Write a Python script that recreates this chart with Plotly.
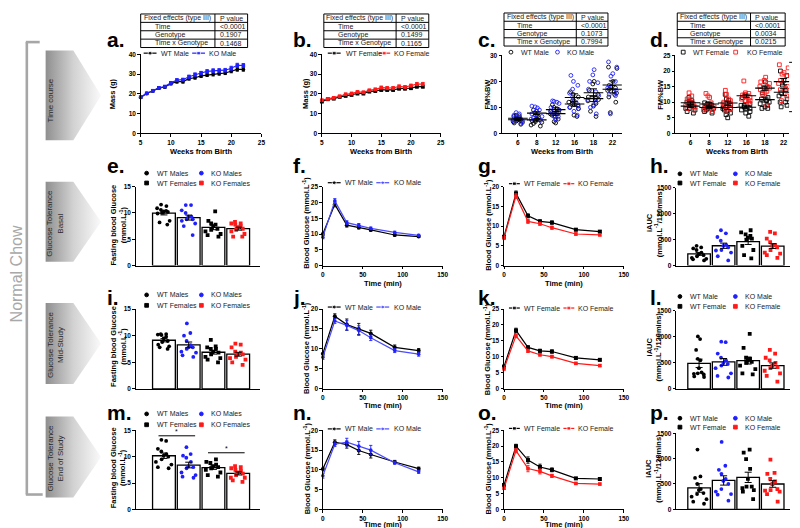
import numpy as np
import plotly.graph_objects as go

W, H = 800, 528
FONT = "Liberation Sans"
BLK = "#000000"
BLUE = "#2020ff"
BLUE2 = "#4b4bff"
RED = "#ff1a1a"
TXT = "#1a1a1a"

# ======================= DATA =======================
# a / b : body mass time course (mean, SEM)
weeks = [5, 6, 7, 8, 9, 10, 11, 12, 13, 14, 15, 16, 17, 18, 19, 20, 21, 22]
a_wt_mean = [18.2, 20.2, 21.5, 22.9, 23.5, 25.2, 26.2, 26.2, 27.7, 28.2, 29.1, 29.6, 29.9, 30.3, 30.6, 31.6, 32.4, 32.4]
a_wt_sem = [0.5, 0.5, 0.5, 0.6, 0.6, 0.6, 0.7, 0.7, 0.7, 0.7, 0.8, 0.8, 0.8, 0.8, 0.8, 0.9, 0.9, 0.9]
a_ko_mean = [18.4, 20.3, 21.6, 23.1, 23.7, 25.6, 27.0, 27.2, 28.7, 29.8, 30.6, 31.4, 31.8, 31.9, 32.0, 33.0, 34.5, 34.4]
a_ko_sem = [0.5, 0.5, 0.6, 0.6, 0.6, 0.7, 0.7, 0.7, 0.8, 0.8, 0.8, 0.9, 0.9, 0.9, 0.9, 1.0, 1.0, 1.0]
b_wt_mean = [16.1, 17.3, 17.6, 18.5, 19.0, 19.5, 20.2, 20.2, 21.2, 21.5, 22.0, 22.0, 22.0, 22.7, 22.7, 22.9, 23.7, 23.7]
b_wt_sem = [0.5, 0.5, 0.5, 0.5, 0.5, 0.5, 0.6, 0.6, 0.6, 0.6, 0.6, 0.6, 0.6, 0.7, 0.7, 0.7, 0.7, 0.7]
b_ko_mean = [16.8, 17.5, 18.0, 18.8, 19.8, 20.2, 21.0, 20.8, 21.8, 22.3, 23.2, 23.0, 23.0, 23.8, 23.5, 24.2, 25.0, 25.0]
b_ko_sem = [0.5, 0.5, 0.5, 0.5, 0.6, 0.6, 0.6, 0.6, 0.6, 0.6, 0.7, 0.7, 0.7, 0.7, 0.7, 0.7, 0.8, 0.8]

# c / d : fat mass % body weight, individual animals per week
fm_weeks = ["6", "8", "12", "16", "18", "22"]
c_wt = [
    [4.0, 4.5, 4.8, 5.0, 5.2, 5.5, 6.0, 6.5, 7.0, 3.5, 4.2, 6.8],
    [2.8, 3.2, 3.8, 4.2, 4.5, 5.0, 5.5, 6.0, 6.5, 7.0, 9.0, 4.8],
    [4.0, 4.5, 5.5, 6.5, 7.0, 7.5, 8.0, 8.5, 9.0, 10.0, 11.0, 9.5],
    [16.0, 15.0, 14.0, 12.5, 12.0, 11.5, 11.0, 10.5, 10.0, 9.5, 7.0, 6.5],
    [20.0, 19.0, 16.5, 15.0, 14.0, 13.5, 13.0, 12.5, 11.5, 10.5, 8.5, 6.5],
    [25.5, 25.0, 20.0, 18.0, 17.5, 17.0, 16.5, 15.5, 15.0, 14.0, 12.0, 8.0],
]
c_ko = [
    [5.0, 5.5, 6.0, 6.5, 7.0, 7.5, 8.0, 4.5, 5.2, 6.2, 4.8, 3.8],
    [10.5, 10.2, 9.8, 9.0, 8.5, 8.0, 7.5, 7.0, 6.5, 5.5, 5.0, 6.0],
    [12.5, 12.3, 12.0, 11.5, 10.0, 9.0, 8.5, 8.0, 7.5, 6.5, 5.5, 6.5],
    [22.3, 20.0, 18.5, 17.0, 15.5, 14.0, 12.5, 11.0, 10.0, 9.5, 8.5, 7.0],
    [24.5, 22.5, 20.0, 19.5, 17.0, 16.0, 14.5, 13.0, 12.0, 11.0, 10.0, 7.5],
    [27.5, 25.5, 23.0, 22.0, 20.0, 18.5, 17.5, 16.5, 16.0, 15.0, 14.5, 7.5],
]
d_wt = [
    [11.5, 10.5, 9.5, 9.0, 8.5, 8.0, 7.5, 7.0, 6.5, 9.0, 10.0, 8.0],
    [9.8, 9.5, 9.0, 8.5, 8.3, 8.0, 7.5, 7.0, 6.5, 8.5, 9.2, 8.0],
    [12.5, 11.0, 10.5, 9.0, 8.5, 8.0, 7.5, 7.0, 6.5, 6.0, 5.0, 8.0],
    [11.5, 10.5, 9.5, 9.0, 8.5, 8.0, 7.5, 7.0, 6.5, 5.5, 8.0, 9.0],
    [16.5, 14.5, 13.0, 11.0, 10.5, 10.0, 9.5, 9.0, 8.5, 8.0, 8.0, 11.5],
    [20.0, 18.5, 17.0, 15.5, 14.0, 13.0, 12.0, 11.0, 10.0, 9.0, 8.5, 10.0],
]
d_ko = [
    [13.0, 12.0, 11.0, 10.5, 10.0, 9.5, 9.0, 8.5, 8.0, 7.5, 9.0, 10.0],
    [12.8, 12.0, 11.5, 9.8, 9.5, 9.0, 8.5, 8.0, 7.5, 7.0, 8.5, 9.0],
    [13.8, 12.5, 11.0, 10.5, 10.0, 9.5, 9.0, 8.5, 8.0, 7.5, 7.0, 9.5],
    [16.8, 13.0, 12.5, 12.3, 12.0, 11.5, 11.0, 10.5, 10.0, 12.8, 11.8, 10.5],
    [18.0, 17.0, 16.5, 16.0, 15.0, 14.5, 14.0, 13.5, 13.0, 12.5, 9.0, 15.0],
    [22.0, 21.0, 19.5, 19.0, 18.5, 17.0, 16.0, 15.0, 14.5, 14.0, 12.0, 10.5],
]

# glucose tolerance curves (mean, SEM)
gtt_time = [0, 15, 30, 45, 60, 90, 120]
f_wt_mean = [10.0, 19.4, 12.8, 12.1, 11.3, 9.7, 9.2]
f_wt_sem = [0.4, 0.8, 0.6, 0.5, 0.4, 0.4, 0.3]
f_ko_mean = [9.0, 20.5, 13.6, 12.8, 11.8, 10.5, 9.6]
f_ko_sem = [0.5, 0.7, 0.6, 0.5, 0.4, 0.4, 0.3]
g_wt_mean = [7.3, 18.3, 12.6, 11.2, 10.9, 9.1, 8.6]
g_wt_sem = [0.4, 0.6, 0.5, 0.4, 0.4, 0.3, 0.3]
g_ko_mean = [7.0, 17.6, 11.2, 10.6, 9.6, 8.0, 7.8]
g_ko_sem = [0.4, 0.6, 0.5, 0.4, 0.4, 0.3, 0.3]
j_wt_mean = [8.8, 18.2, 16.1, 15.0, 13.9, 10.4, 9.6]
j_wt_sem = [0.6, 0.6, 1.4, 1.4, 0.8, 0.6, 0.5]
j_ko_mean = [7.9, 17.0, 15.9, 14.6, 12.8, 9.6, 8.7]
j_ko_sem = [0.5, 0.6, 1.2, 1.2, 0.7, 0.5, 0.5]
k_wt_mean = [7.0, 18.3, 13.0, 11.9, 11.7, 9.7, 9.1]
k_wt_sem = [0.4, 0.7, 0.5, 0.5, 0.5, 0.4, 0.3]
k_ko_mean = [6.3, 16.6, 11.9, 10.7, 10.1, 8.0, 7.3]
k_ko_sem = [0.4, 0.6, 0.5, 0.4, 0.4, 0.3, 0.3]
n_wt_mean = [10.2, 17.0, 16.4, 14.9, 13.9, 12.0, 10.3]
n_wt_sem = [0.5, 0.6, 0.9, 1.0, 0.9, 0.4, 0.4]
n_ko_mean = [8.5, 16.5, 17.0, 16.0, 15.0, 11.8, 9.5]
n_ko_sem = [0.6, 0.6, 1.0, 1.2, 1.2, 0.4, 0.4]
o_wt_mean = [7.7, 20.0, 15.6, 13.4, 12.5, 9.8, 9.6]
o_wt_sem = [0.4, 0.6, 1.0, 0.9, 0.6, 0.3, 0.3]
o_ko_mean = [6.7, 18.6, 12.9, 12.0, 10.6, 8.2, 8.0]
o_ko_sem = [0.4, 0.7, 1.0, 0.8, 0.5, 0.3, 0.3]

# fasting blood glucose (mmol/L) per animal: WT M, KO M, WT F, KO F
e_wt_m = [11.6, 11.3, 10.9, 10.6, 10.4, 10.3, 10.2, 10.0, 9.9, 8.5, 8.2, 7.8]
e_ko_m = [11.5, 11.5, 10.5, 10.0, 9.3, 8.8, 8.5, 8.8, 7.5, 5.8, 9.3, 8.0]
e_wt_f = [10.3, 8.5, 8.0, 7.8, 7.5, 7.0, 6.5, 6.0, 5.8, 5.5, 6.8]
e_ko_f = [8.3, 8.0, 8.0, 7.8, 7.3, 7.0, 6.5, 6.0, 5.5, 5.5, 7.5, 6.8]
i_wt_m = [10.3, 10.3, 10.2, 10.1, 9.8, 9.5, 9.0, 8.8, 8.3, 8.0, 7.5, 7.8]
i_ko_m = [12.3, 10.5, 10.0, 9.0, 8.2, 7.8, 7.5, 7.0, 6.8, 6.3, 6.0, 7.8]
i_wt_f = [9.2, 8.0, 7.8, 7.5, 7.0, 6.8, 6.5, 6.0, 5.8, 5.5, 5.0, 7.5]
i_ko_f = [8.5, 8.3, 7.8, 7.0, 6.5, 6.0, 5.8, 5.5, 5.0, 4.5, 6.8, 6.5]
m_wt_m = [13.2, 13.0, 11.5, 11.0, 10.5, 10.2, 10.0, 9.5, 9.0, 8.5, 7.8, 8.0]
m_ko_m = [11.8, 10.5, 10.2, 9.8, 9.0, 8.2, 7.8, 7.0, 6.5, 6.2, 6.0, 8.0]
m_wt_f = [9.5, 9.0, 8.8, 8.5, 8.2, 8.0, 7.5, 7.0, 6.5, 6.2, 7.8]
m_ko_f = [8.2, 8.0, 7.8, 7.5, 7.3, 7.0, 6.5, 6.0, 5.5, 5.2, 6.0, 6.8]

# iAUC (mmol.L-1/120 min) per animal
h_wt_m = [380, 350, 330, 300, 250, 220, 200, 180, 150, 120, 100, 130]
h_ko_m = [680, 620, 550, 480, 400, 380, 350, 300, 250, 180, 100, 290]
h_wt_f = [680, 640, 600, 570, 520, 500, 380, 300, 200, 140, 540]
h_ko_f = [650, 620, 520, 450, 400, 350, 300, 250, 200, 150, 230, 380]
l_wt_m = [1010, 960, 750, 580, 550, 400, 320, 300, 290, 280, 240, 230]
l_ko_m = [910, 900, 680, 600, 550, 500, 450, 400, 300, 250, 220, 480]
l_wt_f = [1060, 790, 600, 580, 550, 500, 450, 380, 300, 280, 520]
l_ko_f = [750, 680, 600, 550, 500, 450, 420, 400, 350, 300, 140, 250]
p_wt_m = [1180, 650, 620, 500, 400, 380, 320, 300, 250, 150, 110, 200]
p_ko_m = [1330, 860, 780, 700, 600, 560, 500, 400, 350, 300, 170, 290]
p_wt_f = [1180, 1120, 990, 800, 600, 450, 420, 380, 350, 200, 450]
p_ko_f = [980, 720, 700, 600, 550, 500, 400, 380, 350, 300, 150, 370]

# mixed-model tables
effects = ["Time", "Genotype", "Time x Genotype"]
a_pvals = ["<0.0001", "0.1907", "0.1468"]
b_pvals = ["<0.0001", "0.1499", "0.1165"]
c_pvals = ["<0.0001", "0.1073", "0.7994"]
d_pvals = ["<0.0001", "0.0034", "0.0215"]

# ======================= LAYOUT =======================
ORDER = list("abcdefghijklmnop")
BOX = {
    'a': (132, 254, 43, 123), 'b': (315, 435, 43, 123), 'c': (497, 618, 44, 123), 'd': (672, 787, 44, 123),
    'e': (127, 253, 177, 257), 'f': (316, 437, 177, 257), 'g': (499, 620, 177, 257), 'h': (673, 788, 178, 257),
    'i': (127, 253, 301, 382), 'j': (316, 437, 301, 382), 'k': (499, 620, 301, 382), 'l': (673, 788, 303, 382),
    'm': (127, 253, 424, 504), 'n': (316, 437, 424, 504), 'o': (499, 620, 424, 504), 'p': (673, 788, 427, 504),
}

fig = go.Figure()
layout = dict(
    width=W, height=H, margin=dict(l=0, r=0, t=0, b=0),
    paper_bgcolor="white", plot_bgcolor="rgba(0,0,0,0)",
    showlegend=False, boxmode="overlay", hovermode=False,
    font=dict(family=FONT, color=TXT),
)
layout["xaxis"] = dict(domain=[0, 1], range=[0, W], visible=False, fixedrange=True)
layout["yaxis"] = dict(domain=[0, 1], range=[H, 0], visible=False, fixedrange=True)

TICKFONT = dict(family=FONT, size=6.5, color=BLK, weight="bold")
AX = dict(showline=True, linecolor=BLK, linewidth=1, ticks="outside", ticklen=2.5, tickwidth=1,
          tickcolor=BLK, tickfont=TICKFONT, showgrid=False, zeroline=False, fixedrange=True)


def axes_for(key, xr, yr, ytickvals, xtickvals=None, xticktext=None, bar=False):
    n = ORDER.index(key) + 2
    x0, x1, y0, y1 = BOX[key]
    xa = dict(AX, domain=[x0 / W, x1 / W], range=xr, anchor=f"y{n}")
    if bar:
        xa.update(ticks="", showticklabels=False)
    else:
        xa.update(tickvals=xtickvals)
        if xticktext is not None:
            xa.update(ticktext=xticktext)
    ya = dict(AX, domain=[1 - y1 / H, 1 - y0 / H], range=yr, anchor=f"x{n}", tickvals=ytickvals)
    layout[f"xaxis{n}"] = xa
    layout[f"yaxis{n}"] = ya
    return f"x{n}", f"y{n}"


def line_series(xa, ya, x, mean, sem, color, lcolor, symbol, size):
    fig.add_trace(go.Scatter(
        x=x, y=mean, mode="lines+markers", xaxis=xa, yaxis=ya, cliponaxis=False,
        line=dict(color=lcolor, width=1.2),
        marker=dict(color=color, symbol=symbol, size=size, line=dict(width=0)),
        error_y=dict(type="data", array=sem, color=color, thickness=0.9, width=1.6)))


# ---- a, b : time course ----
for key, wt, wts, ko, kos, kocol, wsym, ksym in [
    ("a", a_wt_mean, a_wt_sem, a_ko_mean, a_ko_sem, BLUE, "circle", "square"),
    ("b", b_wt_mean, b_wt_sem, b_ko_mean, b_ko_sem, RED, "square", "square"),
]:
    xa, ya = axes_for(key, [5, 25], [0, 40], [0, 10, 20, 30, 40], xtickvals=[5, 10, 15, 20, 25])
    line_series(xa, ya, weeks, wt, wts, BLK, BLK, wsym, 3.8)
    line_series(xa, ya, weeks, ko, kos, kocol, kocol, ksym, 3.6)

# ---- c, d : FM%BW scatter ----
def scatter_panel(key, wt, ko, kocol, sym, xr, yr, ytv):
    xa, ya = axes_for(key, xr, yr, ytv, xtickvals=list(range(len(fm_weeks))), xticktext=fm_weeks)
    for groups, col in [(wt, BLK), (ko, kocol)]:
        xs = [i for i, g in enumerate(groups) for _ in g]
        ys = [v for g in groups for v in g]
        fig.add_trace(go.Box(
            x=xs, y=ys, xaxis=xa, yaxis=ya, boxpoints="all", jitter=1, pointpos=0, width=0.62,
            fillcolor="rgba(0,0,0,0)", line=dict(width=0, color="rgba(0,0,0,0)"),
            marker=dict(symbol=sym, size=3.8, color=col, line=dict(width=0.9, color=col))))
    for groups in (wt, ko):
        means = [float(np.mean(g)) for g in groups]
        sems = [float(np.std(g, ddof=1) / np.sqrt(len(g))) for g in groups]
        fig.add_trace(go.Scatter(
            x=list(range(len(groups))), y=means, mode="markers", xaxis=xa, yaxis=ya,
            marker=dict(symbol="line-ew-open", size=14, color=BLK, line=dict(width=1.1, color=BLK)),
            error_y=dict(type="data", array=sems, color=BLK, thickness=1, width=3.5)))

scatter_panel("c", c_wt, c_ko, BLUE, "circle-open", [-0.84, 5.5], [0, 30], [0, 10, 20, 30])
scatter_panel("d", d_wt, d_ko, RED, "square-open", [-0.82, 5.3], [0, 25], [0, 5, 10, 15, 20, 25])

# ---- glucose tolerance curves ----
for key, wt, wts, ko, kos, kocol, klcol, sym, ymax in [
    ("f", f_wt_mean, f_wt_sem, f_ko_mean, f_ko_sem, BLUE, BLUE2, "circle", 25),
    ("g", g_wt_mean, g_wt_sem, g_ko_mean, g_ko_sem, RED, RED, "square", 20),
    ("j", j_wt_mean, j_wt_sem, j_ko_mean, j_ko_sem, BLUE, BLUE2, "circle", 20),
    ("k", k_wt_mean, k_wt_sem, k_ko_mean, k_ko_sem, RED, RED, "square", 25),
    ("n", n_wt_mean, n_wt_sem, n_ko_mean, n_ko_sem, BLUE, BLUE2, "circle", 20),
    ("o", o_wt_mean, o_wt_sem, o_ko_mean, o_ko_sem, RED, RED, "square", 25),
]:
    xa, ya = axes_for(key, [0, 150], [0, ymax], list(range(0, ymax + 1, 5)), xtickvals=[0, 50, 100, 150])
    line_series(xa, ya, gtt_time, wt, wts, BLK, BLK, sym, 4)
    line_series(xa, ya, gtt_time, ko, kos, kocol, klcol, sym, 3.6)

# ---- bar + dot panels ----
GROUP_STYLE = [("circle", BLK), ("circle", BLUE), ("square", BLK), ("square", RED)]

def bar_panel(key, groups, xr, ymax, ytv):
    xa, ya = axes_for(key, xr, [0, ymax], ytv, bar=True)
    means = [float(np.mean(g)) for g in groups]
    sems = [float(np.std(g, ddof=1) / np.sqrt(len(g))) for g in groups]
    pos = list(range(len(groups)))
    fig.add_trace(go.Bar(x=pos, y=means, width=0.92, xaxis=xa, yaxis=ya,
                         marker=dict(color="white", line=dict(color=BLK, width=1.3))))
    for k, (g, (sym, col)) in enumerate(zip(groups, GROUP_STYLE)):
        fig.add_trace(go.Box(
            x=[k] * len(g), y=g, xaxis=xa, yaxis=ya, boxpoints="all", jitter=1, pointpos=0, width=0.78,
            fillcolor="rgba(0,0,0,0)", line=dict(width=0, color="rgba(0,0,0,0)"),
            marker=dict(symbol=sym, size=3.8, color=col, line=dict(width=0))))
    fig.add_trace(go.Scatter(x=pos, y=means, mode="markers", xaxis=xa, yaxis=ya, cliponaxis=False,
                             marker=dict(size=1, color="rgba(0,0,0,0)"),
                             error_y=dict(type="data", array=sems, color=BLK, thickness=1, width=3.5)))

BX_L = [-1.14, 3.9]
BX_R = [-0.93, 3.71]
bar_panel("e", [e_wt_m, e_ko_m, e_wt_f, e_ko_f], BX_L, 15, [0, 5, 10, 15])
bar_panel("i", [i_wt_m, i_ko_m, i_wt_f, i_ko_f], BX_L, 15, [0, 5, 10, 15])
bar_panel("m", [m_wt_m, m_ko_m, m_wt_f, m_ko_f], BX_L, 15, [0, 5, 10, 15])
bar_panel("h", [h_wt_m, h_ko_m, h_wt_f, h_ko_f], BX_R, 1500, [0, 500, 1000, 1500])
bar_panel("l", [l_wt_m, l_ko_m, l_wt_f, l_ko_f], BX_R, 1500, [0, 500, 1000, 1500])
bar_panel("p", [p_wt_m, p_ko_m, p_wt_f, p_ko_f], BX_R, 1500, [0, 500, 1000, 1500])

# ======================= DECORATION (pixel overlay) =======================
shapes = []
annos = []

def seg(x0, y0, x1, y1, color=BLK, width=1):
    shapes.append(dict(type="line", xref="x", yref="y", x0=x0, y0=y0, x1=x1, y1=y1,
                       line=dict(color=color, width=width)))

def txt(x, y, s, size=7, xanchor="left", color=TXT, bold=False, angle=0, align="left"):
    annos.append(dict(xref="x", yref="y", x=x, y=y, text=s, showarrow=False, xanchor=xanchor,
                      yanchor="middle", textangle=angle, align=align,
                      font=dict(family=FONT, size=size, color=color, weight="bold" if bold else "normal")))

# tables
def table(left, div, right, top, bottom, row_x, pvals):
    shapes.append(dict(type="rect", xref="x", yref="y", x0=left, x1=right, y0=top, y1=bottom,
                       line=dict(color=BLK, width=1)))
    seg(div, top, div, bottom)
    step = (bottom - top) / 4
    for r in range(1, 4):
        seg(left, top + r * step, right, top + r * step)
    txt((left + div) / 2, top + step / 2, "Fixed effects (type III)", xanchor="center")
    txt(div + 3, top + step / 2, "P value")
    for r in range(3):
        txt(row_x, top + (r + 1.5) * step, effects[r])
        txt(div + 3, top + (r + 1.5) * step, pvals[r])

table(132, 207, 240, 2, 36, 144, a_pvals)
table(317, 390, 423, 2, 36, 329, b_pvals)
table(499, 572, 604, 1, 34.5, 510, c_pvals)
table(674, 748, 783, 1, 34.5, 685, d_pvals)

# panel letters
for row, ym in enumerate([27.5, 155.5, 289.5, 406]):
    for col, xl in enumerate([96, 284, 471, 644]):
        letter = ORDER[row * 4 + col]
        txt(xl, ym, letter + ".", size=21, color=BLK, bold=True)

# axis titles
YT = 7.5
for key, x, y, s in [
    ("a", 103.5, 83, "Mass (g)"), ("b", 299, 83, "Mass (g)"),
    ("c", 482, 83.5, "FM%BW"), ("d", 657, 83.5, "FM%BW"),
    ("f", 299.5, 214, "Blood Glucose (mmol.L<sup>-1</sup>)"),
    ("g", 482.5, 216, "Blood Glucose (mmol.L<sup>-1</sup>)"),
    ("j", 299.5, 341, "Blood Glucose (mmol.L<sup>-1</sup>)"),
    ("k", 482.5, 342, "Blood Glucose (mmol.L<sup>-1</sup>)"),
    ("n", 299.5, 463, "Blood Glucose (mmol.L<sup>-1</sup>)"),
    ("o", 482.5, 463, "Blood Glucose (mmol.L<sup>-1</sup>)"),
]:
    txt(x, y, s, size=YT, xanchor="center", color=BLK, bold=True, angle=-90)
for y in [216, 339, 462]:
    txt(109.5, y, "Fasting blood Glucose<br>(mmol.L<sup>-1</sup>)", size=YT, xanchor="center",
        color=BLK, bold=True, angle=-90, align="center")
for y in [214, 340, 463]:
    txt(650.5, y, "iAUC<br>(mmol.L<sup>-1</sup>/120mins)", size=YT, xanchor="center",
        color=BLK, bold=True, angle=-90, align="center")
for x in [193, 375, 557.5, 734]:
    txt(x, 141, "Weeks from Birth", size=YT, xanchor="center", color=BLK, bold=True)
for y in [275, 398.5, 519.5]:
    for x in [376.5, 559.5]:
        txt(x, y, "Time (min)", size=YT, xanchor="center", color=BLK, bold=True)

# legends
def line_leg(x0, x1, tx, y, label, color, symbol, size=4):
    fig.add_trace(go.Scatter(x=[x0, (x0 + x1) / 2, x1], y=[y, y, y], mode="lines+markers",
                             xaxis="x", yaxis="y", line=dict(color=color, width=1.2),
                             marker=dict(size=[0, size, 0], symbol=symbol, color=color)))
    txt(tx, y, label)

def mark_leg(x, tx, y, label, color, symbol, size=3.8):
    fig.add_trace(go.Scatter(x=[x], y=[y], mode="markers", xaxis="x", yaxis="y",
                             marker=dict(size=size, symbol=symbol, color=color,
                                         line=dict(width=0.9, color=color))))
    txt(tx, y, label)

line_leg(135, 148, 150, 41.7, "WT Male", BLK, "circle")
line_leg(184, 197, 199, 41.7, "KO Male", BLUE, "square", 3.6)
line_leg(321, 334, 337, 41.7, "WT Female", BLK, "square", 3.8)
line_leg(372, 384, 386, 41.7, "KO Female", RED, "square", 3.8)
mark_leg(506, 514, 40.7, "WT Male", BLK, "circle-open", 3.8)
mark_leg(553, 561, 40.7, "KO Male", BLUE, "circle-open", 3.8)
mark_leg(680, 688, 40.7, "WT Female", BLK, "square-open", 3.8)
mark_leg(733, 742, 40.7, "KO Female", RED, "square-open", 3.8)
for y in [173, 299, 422.5]:
    line_leg(321, 334, 336, y, "WT Male", BLK, "circle")
    line_leg(370, 383, 386, y, "KO Male", BLUE2, "circle", 3.6)
for y in [174, 300, 422]:
    line_leg(504, 515, 517, y, "WT Female", BLK, "square", 3.8)
    line_leg(559, 570, 572, y, "KO Female", RED, "square", 3.8)
for y1, y2 in [(163.3, 173.3), (286.7, 297.3), (407.3, 418.3)]:
    mark_leg(138, 146.5, y1, "WT Males", BLK, "circle")
    mark_leg(193.3, 201.5, y1, "KO Males", BLUE, "circle")
    mark_leg(138, 146.5, y2, "WT Females", BLK, "square")
    mark_leg(193.3, 201.5, y2, "KO Females", RED, "square")
for y1, y2 in [(164, 173.3), (288.3, 298.3), (411.7, 420.7)]:
    mark_leg(676.7, 685, y1, "WT Male", BLK, "circle")
    mark_leg(732.7, 740.7, y1, "KO Male", BLUE, "circle")
    mark_leg(676.7, 685, y2, "WT Female", BLK, "square")
    mark_leg(732.7, 740.7, y2, "KO Female", RED, "square")

# significance markers
seg(150, 429.5, 187, 429.5)
txt(168.5, 425.5, "*", size=7, xanchor="center", color=BLK)
seg(200, 446.7, 237, 446.7)
txt(218.5, 442.5, "*", size=7, xanchor="center", color=BLK)
seg(793, 51, 793, 101)
seg(787, 51, 793, 51)
seg(787, 101, 793, 101)
txt(796.5, 75, "#", size=7, xanchor="center", color=BLK, angle=90)

# left side: bracket, arrows and row labels
GR = "#a6a6a6"
seg(17, 30.5, 17, 489, GR, 2.6)
seg(16, 30.5, 30, 30.5, GR, 2.6)
seg(16, 489, 33, 489, GR, 2.6)
txt(7, 265, "Normal Chow", size=16, xanchor="center", color="#a8a8a8", angle=-90)

for y0, y1 in [(39, 130), (172, 253), (295, 377), (410, 492)]:
    ym = (y0 + y1) / 2
    fig.add_trace(go.Scatter(
        x=[36, 64, 92, 64, 36, 36], y=[y0, y0, ym, y1, y1, y0], xaxis="x", yaxis="y",
        mode="lines", line=dict(width=0), fill="toself",
        fillgradient=dict(type="horizontal",
                          colorscale=[[0, "#8f8f8f"], [0.5, "#d2d2d2"], [1, "#fafafa"]])))

txt(41, 90, "Time course", size=8, xanchor="center", color="#2a2a2a", angle=-90)
for ym, s in [(214.5, "Glucose Tolerance<br>Basal"), (337.5, "Glucose Tolerance<br>Mid-Study"),
              (452.5, "Glucose Tolerance<br>End of Study")]:
    txt(45.5, ym, s, size=8, xanchor="center", color="#2a2a2a", angle=-90, align="center")

layout["shapes"] = shapes
layout["annotations"] = annos
fig.update_layout(**layout)
fig.write_html("out.html")
